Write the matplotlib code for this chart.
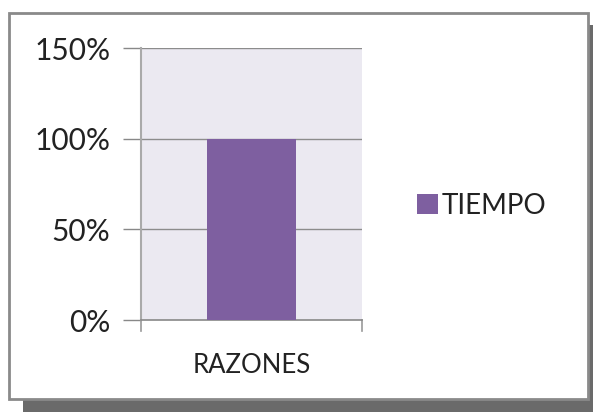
import matplotlib
matplotlib.use("Agg")
import matplotlib.pyplot as plt
from matplotlib.patches import Rectangle

categories = ["RAZONES"]
series_name = "TIEMPO"
values = [100]
yticks = [0, 50, 100, 150]
ytick_labels = ["0%", "50%", "100%", "150%"]

W, H = 593, 412
fig = plt.figure(figsize=(W / 100, H / 100), dpi=100)
fig.patch.set_facecolor("white")
plt.rcParams['font.family'] = ['Lato', 'DejaVu Sans']

def px(x0, y0, x1, y1):
    return (x0 / W, 1 - y1 / H, (x1 - x0) / W, (y1 - y0) / H)

# shadow and frame
sx, sy, sw, sh = px(23, 25, 593, 412)
fig.patches.append(Rectangle((sx, sy), sw, sh, transform=fig.transFigure,
                             facecolor="#6a6a6a", edgecolor="none", zorder=0))
fx, fy, fw, fh = px(9, 13, 588, 399)
fig.patches.append(Rectangle((fx, fy), fw, fh, transform=fig.transFigure,
                             facecolor="white", edgecolor="#8a8a8a", linewidth=2.0, zorder=1))

ax = fig.add_axes(px(141, 48, 362, 320))
ax.set_zorder(2)
ax.set_facecolor("#ebe9f1")
x = list(range(len(categories)))
ax.bar(x, values, width=0.40, color="#7e5fa0", label=series_name, zorder=3)
ax.set_xlim(-0.5, 0.5)
ax.set_ylim(0, 150)
ax.set_yticks(yticks)
ax.set_yticklabels(ytick_labels, fontsize=21.5, color="#222222")
ax.set_xticks(x)
ax.set_xticklabels(categories, fontsize=18.5, color="#222222")
ax.tick_params(axis="x", length=0, pad=24)
ax.tick_params(axis="y", length=13, width=1, color="#888888", pad=9)
for y in yticks[1:]:
    ax.axhline(y, color="#8c8c8c", linewidth=1.0, zorder=2)
for s in ["top", "right"]:
    ax.spines[s].set_visible(False)
ax.spines["left"].set_color("#aaaaaa")
ax.spines["left"].set_linewidth(1.5)
ax.spines["bottom"].set_color("#888888")
ax.spines["bottom"].set_linewidth(1.2)
# small end ticks on category axis
for xe in [-0.5, 0.5]:
    ax.plot([xe, xe], [0, -0.04], transform=ax.get_xaxis_transform(),
            color="#999999", linewidth=1.2, clip_on=False)

leg = fig.legend(loc="center left", bbox_to_anchor=(392 / W, 1 - 206 / H),
                 frameon=False, fontsize=20, handlelength=0.75, handleheight=0.75,
                 handletextpad=0.15)
for t in leg.get_texts():
    t.set_color("#222222")

fig.savefig("out.png", dpi=100)
